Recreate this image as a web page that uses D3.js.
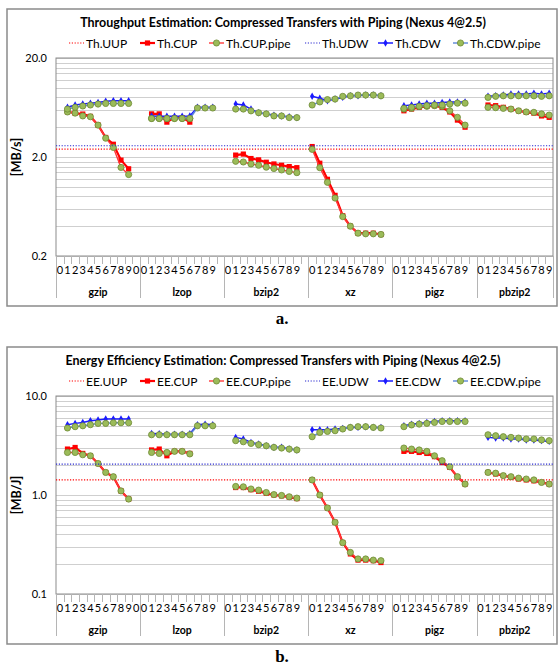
<!DOCTYPE html>
<html>
<head>
<meta charset="utf-8">
<script src="https://cdn.jsdelivr.net/npm/d3@7"></script>
<style>
  body { margin: 0; background: #fff; }
  text { font-family: Lato, "Open Sans", sans-serif; fill: #000; }
</style>
</head>
<body>
<script>
// groups on the x axis and how many category slots each one has
var groups = ["gzip", "lzop", "bzip2", "xz", "pigz", "pbzip2"];
var groupSlots = [11, 11, 11, 11, 11, 10];
// first compression level that has a value in each group
var firstLevel = [1, 1, 1, 0, 1, 1];
// tick label of the extra 11th slot (only gzip shows one)
var extraSlotLabel = ["0", "", "", "", "", ""];

// throughput estimation [MB/s], one inner array per group
var thUUP = 2.4;
var thUDW = 2.6;
var thCUP = [
  [5.73, 5.55, 5.43, 5.14, 4.2, 3.15, 2.69, 1.86, 1.52],
  [5.45, 5.45, 4.5, 5.0, 5.0, 4.5],
  [2.09, 2.14, 1.93, 1.87, 1.77, 1.70, 1.65, 1.60, 1.56],
  [2.55, 1.73, 1.19, 0.82, 0.51, 0.40, 0.34, 0.34, 0.34, 0.33],
  [5.86, 6.1, 6.35, 6.5, 6.6, 6.35, 5.7, 4.72, 4.0],
  [6.7, 6.6, 6.35, 6.1, 5.86, 5.65, 5.55, 5.2, 5.03]
];
var thCUPpipe = [
  [5.7, 5.55, 5.2, 5.1, 4.2, 3.1, 2.5, 1.57, 1.33],
  [4.9, 4.9, 4.9, 4.9, 4.9, 4.9],
  [1.81, 1.78, 1.70, 1.65, 1.58, 1.53, 1.48, 1.43, 1.39],
  [2.39, 1.56, 1.11, 0.77, 0.50, 0.40, 0.34, 0.335, 0.335, 0.33],
  [6.1, 6.2, 6.5, 6.5, 6.6, 6.5, 5.86, 5.03, 4.2],
  [6.35, 6.3, 6.2, 6.1, 5.86, 5.7, 5.65, 5.45, 5.3]
];
var thCDW = [
  [6.35, 6.7, 6.85, 7.0, 7.1, 7.3, 7.4, 7.4, 7.4],
  [5.2, 5.15, 5.15, 5.15, 5.15, 5.2, 6.35, 6.35, 6.35],
  [6.85, 6.7, 6.1, 5.6, 5.45, 5.3, 5.2, 5.1, 5.0],
  [8.2, 7.83, 7.4, 7.7, 8.0, 8.3, 8.3, 8.45, 8.45, 8.3],
  [6.6, 6.7, 6.85, 7.0, 7.0, 7.1, 7.2, 7.2, 7.2],
  [8.2, 8.3, 8.45, 8.65, 8.65, 8.65, 8.8, 8.65, 8.8]
];
var thCDWpipe = [
  [6.1, 6.35, 6.55, 6.7, 6.85, 6.95, 6.95, 6.95, 6.95],
  [4.9, 4.9, 4.9, 4.9, 4.9, 4.9, 6.25, 6.25, 6.25],
  [6.1, 6.1, 5.85, 5.6, 5.45, 5.2, 5.2, 5.0, 5.0],
  [6.7, 7.2, 7.6, 7.7, 8.2, 8.3, 8.45, 8.45, 8.45, 8.3],
  [6.2, 6.35, 6.5, 6.6, 6.7, 6.7, 6.85, 7.0, 7.0],
  [8.0, 8.2, 8.3, 8.3, 8.3, 8.3, 8.3, 8.2, 8.3]
];

// energy efficiency estimation [MB/J]
var eeUUP = 1.42;
var eeUDW = 2.05;
var eeCUP = [
  [2.91, 3.02, 2.63, 2.49, 2.08, 1.69, 1.53, 1.10, 0.91],
  [2.85, 2.91, 2.49, 2.76, 2.76, 2.63],
  [1.19, 1.19, 1.13, 1.09, 1.04, 1.0, 0.98, 0.95, 0.92],
  [1.42, 1.0, 0.74, 0.53, 0.33, 0.254, 0.22, 0.22, 0.217, 0.208],
  [2.76, 2.76, 2.69, 2.63, 2.44, 2.13, 1.9, 1.53, 1.29],
  [1.69, 1.63, 1.57, 1.51, 1.45, 1.42, 1.39, 1.34, 1.29]
];
var eeCUPpipe = [
  [2.69, 2.69, 2.55, 2.49, 2.08, 1.69, 1.53, 1.10, 0.91],
  [2.69, 2.63, 2.69, 2.76, 2.76, 2.6],
  [1.22, 1.21, 1.15, 1.12, 1.06, 1.01, 0.99, 0.96, 0.93],
  [1.42, 1.0, 0.74, 0.53, 0.33, 0.263, 0.226, 0.226, 0.22, 0.217],
  [2.98, 2.91, 2.85, 2.76, 2.49, 2.22, 1.93, 1.53, 1.29],
  [1.69, 1.66, 1.57, 1.53, 1.48, 1.45, 1.42, 1.34, 1.29]
];
var eeCDW = [
  [5.13, 5.29, 5.41, 5.63, 5.72, 5.86, 5.86, 5.86, 5.86],
  [4.19, 4.15, 4.1, 4.1, 4.1, 4.15, 5.13, 5.2, 5.13],
  [3.82, 3.68, 3.4, 3.27, 3.14, 3.03, 3.03, 2.91, 2.85],
  [4.57, 4.57, 4.57, 4.64, 4.7, 4.82, 4.82, 4.9, 4.82, 4.82],
  [5.0, 5.2, 5.29, 5.41, 5.53, 5.63, 5.63, 5.63, 5.63],
  [3.82, 3.76, 3.76, 3.68, 3.68, 3.6, 3.6, 3.54, 3.48]
];
var eeCDWpipe = [
  [4.75, 4.9, 5.0, 5.13, 5.29, 5.29, 5.37, 5.37, 5.37],
  [4.06, 4.06, 4.06, 4.06, 4.06, 4.06, 5.0, 5.0, 5.0],
  [3.54, 3.45, 3.32, 3.22, 3.14, 3.03, 2.98, 2.91, 2.85],
  [3.88, 4.29, 4.39, 4.46, 4.64, 4.82, 4.9, 4.9, 4.82, 4.75],
  [4.9, 5.1, 5.2, 5.29, 5.41, 5.53, 5.53, 5.53, 5.53],
  [4.06, 3.97, 3.88, 3.82, 3.76, 3.68, 3.68, 3.6, 3.54]
];

window.onload = function(){
    var w = 558, h = 668;
    var svg = d3.select("body").append("svg")
        .attr("width", w)
        .attr("height", h);

    // category keys: one per slot of every group
    var slots = [];
    groups.forEach(function(g, gi){
        for (var s = 0; s < groupSlots[gi]; s++){
            slots.push({key: g + "-" + s, group: gi, slot: s,
                label: s < 10 ? String(s) : extraSlotLabel[gi]});
        }
    });

    // the six series, in the order Excel draws them
    var seriesStyle = [
        {kind: "flat", color: "#ff0000"},
        {kind: "line", color: "#ff0000", width: 2.2, marker: "square"},
        {kind: "line", color: "#ff3a3a", width: 1.4, marker: "circle"},
        {kind: "flat", color: "#2b2bd0"},
        {kind: "line", color: "#1a1aff", width: 1.5, marker: "diamond"},
        {kind: "line", color: "#5b86d6", width: 1.4, marker: "circle"}
    ];
    var legendX = [69, 140, 209, 305, 378, 453];

    function drawMarker(sel, type, color){
        if (type === "square"){
            sel.append("rect").attr("x", -2.6).attr("y", -2.6)
                .attr("width", 5.2).attr("height", 5.2)
                .style("fill", color);
        } else if (type === "circle"){
            sel.append("circle").attr("r", 3.1)
                .style("fill", "#9bbb59").style("stroke", "#6f8a36").style("stroke-width", 0.8);
        } else if (type === "diamond"){
            sel.append("path").attr("d", d3.symbol(d3.symbolDiamond, 16)())
                .style("fill", color);
        }
    }

    function drawChart(cfg){
        var g = svg.append("g").attr("transform", "translate(0," + cfg.top + ")");
        var plotL = 56, plotR = 553, plotT = 49, plotB = 247;

        // outer frame
        g.append("rect").attr("x", 7).attr("y", 0).attr("width", 550).attr("height", 297)
            .style("fill", "#fff").style("stroke", "#8a8a8a").style("stroke-width", 1.5);

        g.append("text").attr("x", 283).attr("y", 18)
            .attr("text-anchor", "middle").style("font-weight", "bold").style("font-size", "12.5px")
            .text(cfg.title);

        var x = d3.scaleBand().domain(slots.map(function(d){ return d.key; }))
            .range([plotL, plotR]);
        var cx = function(gi, s){ return x(groups[gi] + "-" + s) + x.bandwidth() / 2; };

        var y = d3.scaleLog().domain(cfg.domain).range([plotB, plotT]);

        // minor and major gridlines: k * decade for k = 1..9
        var grid = [];
        cfg.decades.forEach(function(d){
            for (var k = 1; k <= 9; k++) grid.push(d * k);
        });
        grid.push(cfg.domain[1]);
        g.append("g").selectAll("line").data(grid).enter().append("line")
            .attr("x1", plotL).attr("x2", plotR)
            .attr("y1", function(d){ return Math.round(y(d)) + 0.5; })
            .attr("y2", function(d){ return Math.round(y(d)) + 0.5; })
            .style("stroke", "#cfcfcf").style("stroke-width", 1);

        // plot area border
        g.append("rect").attr("x", plotL).attr("y", plotT)
            .attr("width", plotR - plotL).attr("height", plotB - plotT)
            .style("fill", "none").style("stroke", "#8c8c8c").style("stroke-width", 1);

        // y axis labels
        var yAxis = d3.axisLeft(y).tickValues(cfg.decades.concat([cfg.domain[1]]))
            .tickSize(0).tickPadding(9).tickFormat(d3.format(".1f"));
        var ya = g.append("g").attr("transform", "translate(" + plotL + ",0)").call(yAxis);
        ya.select(".domain").remove();
        ya.selectAll("text").style("font-size", "11px").style("font-family", "Lato, sans-serif");

        g.append("text").attr("transform", "translate(21," + ((plotT + plotB) / 2) + ") rotate(-90)")
            .attr("text-anchor", "middle").style("font-weight", "bold").style("font-size", "12.5px")
            .text(cfg.unit);

        // category tick marks and group separators
        var bounds = slots.map(function(d){ return {x: x(d.key), first: d.slot === 0}; });
        bounds.push({x: plotR, first: true});
        g.append("g").selectAll("line").data(bounds).enter().append("line")
            .attr("x1", function(d){ return Math.round(d.x) + 0.5; })
            .attr("x2", function(d){ return Math.round(d.x) + 0.5; })
            .attr("y1", plotB)
            .attr("y2", function(d){ return d.first ? 289 : plotB + 8; })
            .style("stroke", "#b5b5b5").style("stroke-width", 1);

        // category labels
        g.append("g").selectAll("text").data(slots).enter().append("text")
            .attr("x", function(d){ return x(d.key) + x.bandwidth() / 2; })
            .attr("y", plotB + 18)
            .attr("text-anchor", "middle").style("font-size", "11px")
            .text(function(d){ return d.label; });

        // group labels
        g.append("g").selectAll("text").data(groups).enter().append("text")
            .attr("x", function(d, i){
                var a = x(d + "-0"), b = x(d + "-" + (groupSlots[i] - 1)) + x.bandwidth();
                return (a + b) / 2;
            })
            .attr("y", plotB + 40)
            .attr("text-anchor", "middle").style("font-weight", "bold").style("font-size", "10.5px")
            .text(function(d){ return d; });

        // series
        var line = d3.line().x(function(d){ return d.x; }).y(function(d){ return y(d.v); });
        cfg.series.forEach(function(sr, si){
            var st = seriesStyle[si];
            if (st.kind === "flat"){
                g.append("line").attr("x1", plotL).attr("x2", plotR)
                    .attr("y1", y(sr)).attr("y2", y(sr))
                    .style("stroke", st.color).style("stroke-width", 1.1)
                    .style("stroke-dasharray", "1.2,1.6");
                return;
            }
            sr.forEach(function(vals, gi){
                var pts = vals.map(function(v, j){ return {x: cx(gi, firstLevel[gi] + j), v: v}; });
                g.append("path").datum(pts).attr("d", line)
                    .style("fill", "none").style("stroke", st.color)
                    .style("stroke-width", st.width).style("stroke-linejoin", "round");
                g.append("g").selectAll("g").data(pts).enter().append("g")
                    .attr("transform", function(d){ return "translate(" + d.x + "," + y(d.v) + ")"; })
                    .each(function(){ drawMarker(d3.select(this), st.marker, st.color); });
            });
        });

        // legend
        var lg = g.append("g").attr("transform", "translate(0,34)");
        cfg.names.forEach(function(name, i){
            var st = seriesStyle[i];
            var item = lg.append("g").attr("transform", "translate(" + legendX[i] + ",0)");
            item.append("line").attr("x1", 0).attr("x2", 15).attr("y1", 0).attr("y2", 0)
                .style("stroke", st.color)
                .style("stroke-width", st.kind === "flat" ? 1.1 : st.width)
                .style("stroke-dasharray", st.kind === "flat" ? "1.2,1.6" : null);
            if (st.marker){
                drawMarker(item.append("g").attr("transform", "translate(7.5,0)"), st.marker, st.color);
            }
            item.append("text").attr("x", 17).attr("y", 4.5).style("font-size", "12px").text(name);
        });

        svg.append("text").attr("x", 282).attr("y", cfg.top + 315)
            .attr("text-anchor", "middle")
            .style("font-family", "'Liberation Serif', serif").style("font-weight", "bold")
            .style("font-size", "17px")
            .text(cfg.tag);
    }

    drawChart({
        top: 9,
        title: "Throughput Estimation: Compressed Transfers with Piping (Nexus 4@2.5)",
        unit: "[MB/s]",
        domain: [0.2, 20],
        decades: [0.2, 2],
        names: ["Th.UUP", "Th.CUP", "Th.CUP.pipe", "Th.UDW", "Th.CDW", "Th.CDW.pipe"],
        series: [thUUP, thCUP, thCUPpipe, thUDW, thCDW, thCDWpipe],
        tag: "a."
    });

    drawChart({
        top: 347,
        title: "Energy Efficiency Estimation: Compressed Transfers with Piping (Nexus 4@2.5)",
        unit: "[MB/J]",
        domain: [0.1, 10],
        decades: [0.1, 1],
        names: ["EE.UUP", "EE.CUP", "EE.CUP.pipe", "EE.UDW", "EE.CDW", "EE.CDW.pipe"],
        series: [eeUUP, eeCUP, eeCUPpipe, eeUDW, eeCDW, eeCDWpipe],
        tag: "b."
    });
};
</script>
</body>
</html>
